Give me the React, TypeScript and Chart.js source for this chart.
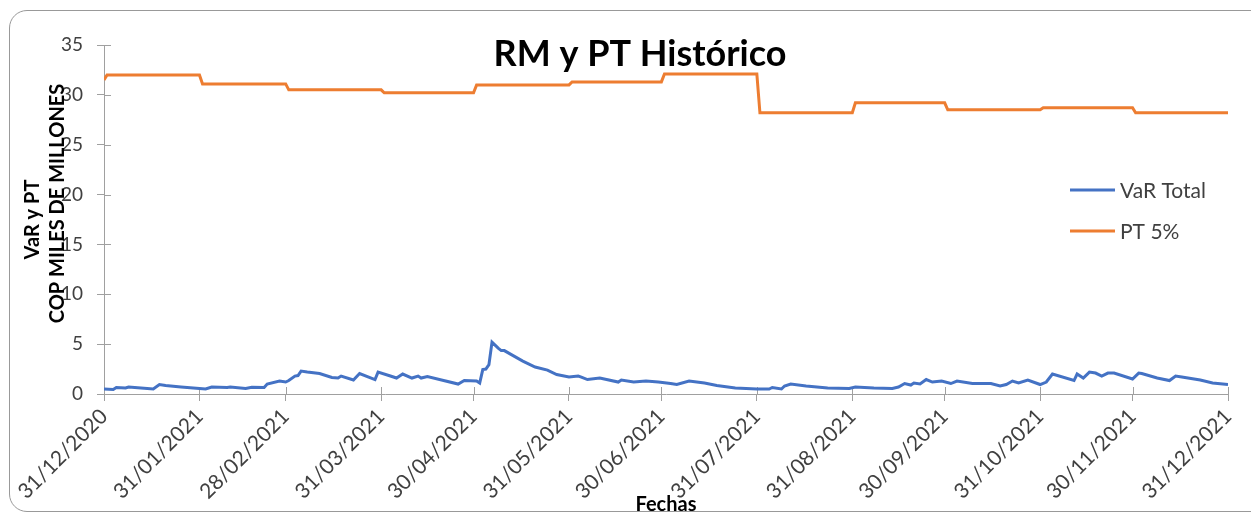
import React, { useEffect, useRef } from 'react';
import { Chart, registerables } from 'chart.js';

Chart.register(...registerables);

const TITLE = 'RM y PT Histórico';
const Y_TITLE_LINES = ['VaR y PT', 'COP MILES DE MILLONES'];
const X_TITLE = 'Fechas';
const SERIES_NAMES = ['VaR Total', 'PT 5%'];
const SERIES_COLORS = ['#4472C4', '#ED7D31'];

// x = days elapsed since 31/12/2020
const TICK_DAYS = [0, 31, 59, 90, 120, 151, 181, 212, 243, 273, 304, 334, 365];
const TICK_LABELS = [
  '31/12/2020', '31/01/2021', '28/02/2021', '31/03/2021', '30/04/2021', '31/05/2021',
  '30/06/2021', '31/07/2021', '31/08/2021', '30/09/2021', '31/10/2021', '30/11/2021', '31/12/2021',
];
const Y_MIN = 0;
const Y_MAX = 35;
const Y_STEP = 5;

const VAR_DAYS = [
  0, 3, 4, 7, 8, 12, 16, 18, 20, 25, 31, 33, 35, 40, 41, 46, 48, 52, 53, 57,
  59, 60, 62, 63, 64, 66, 70, 74, 76, 77, 81, 83, 88, 89, 93, 95, 97, 100, 102, 103,
  105, 115, 117, 121, 122, 123, 124, 125, 126, 128, 129, 130, 132, 136, 140, 144, 147, 151, 154, 155,
  157, 161, 167, 168, 172, 176, 180, 184, 186, 190, 195, 199, 205, 212, 216, 217, 220, 221, 223, 228,
  235, 242, 244, 250, 256, 258, 260, 262, 263, 265, 267, 269, 272, 275, 277, 282, 288, 291, 293, 295,
  297, 300, 304, 306, 308, 315, 316, 318, 320, 322, 324, 326, 328, 334, 336, 337, 342, 346, 348, 350,
  356, 360, 365,
];
const VAR_VALUES = [
  0.5, 0.45, 0.65, 0.6, 0.7, 0.6, 0.5, 0.95, 0.85, 0.7, 0.55, 0.5, 0.7, 0.65, 0.7, 0.55, 0.68, 0.65, 1.0, 1.3,
  1.2, 1.35, 1.8, 1.85, 2.3, 2.2, 2.05, 1.65, 1.6, 1.8, 1.4, 2.05, 1.45, 2.2, 1.8, 1.6, 2.0, 1.6, 1.8, 1.6,
  1.75, 1.0, 1.35, 1.3, 1.1, 2.45, 2.5, 2.95, 5.2, 4.6, 4.35, 4.35, 4.0, 3.3, 2.7, 2.4, 1.95, 1.7, 1.8, 1.7,
  1.45, 1.6, 1.2, 1.4, 1.2, 1.3, 1.2, 1.05, 0.95, 1.3, 1.1, 0.85, 0.6, 0.5, 0.5, 0.65, 0.5, 0.8, 1.0, 0.8,
  0.6, 0.55, 0.7, 0.6, 0.55, 0.7, 1.05, 0.9, 1.1, 1.0, 1.45, 1.2, 1.3, 1.05, 1.3, 1.05, 1.05, 0.8, 0.95, 1.3,
  1.1, 1.4, 0.95, 1.2, 2.0, 1.35, 2.0, 1.6, 2.2, 2.1, 1.8, 2.1, 2.1, 1.5, 2.1, 2.05, 1.6, 1.35, 1.8, 1.7,
  1.4, 1.1, 0.95,
];

const PT_DAYS = [0, 1, 31, 32, 59, 60, 90, 91, 120, 121, 151, 152, 181, 182, 212, 213, 243, 244, 273, 274, 304, 305, 334, 335, 365];
const PT_VALUES = [
  31.5, 32.0, 32.0, 31.1, 31.1, 30.5, 30.5, 30.2, 30.2, 31.0, 31.0, 31.3, 31.3, 32.1, 32.1, 28.2,
  28.2, 29.2, 29.2, 28.5, 28.5, 28.7, 28.7, 28.2, 28.2,
];

const FONT = 'Lato';
const AXIS_COLOR = '#a0a0a0';
const TEXT_COLOR = '#404040';
const CANVAS_W = 1260;
const CANVAS_H = 506;

const overlayPlugin = {
  id: 'overlay',
  beforeDatasetsDraw(chart: any) {
    const { ctx, chartArea, scales } = chart;
    ctx.save();
    ctx.strokeStyle = AXIS_COLOR;
    ctx.lineWidth = 1;
    ctx.beginPath();
    scales.x.ticks.forEach((t: any) => {
      const px = Math.round(scales.x.getPixelForValue(t.value)) + 0.5;
      ctx.moveTo(px, chartArea.bottom);
      ctx.lineTo(px, chartArea.bottom - 7);
    });
    scales.y.ticks.forEach((t: any) => {
      const py = Math.round(scales.y.getPixelForValue(t.value)) + 0.5;
      ctx.moveTo(chartArea.left, py);
      ctx.lineTo(chartArea.left + 7, py);
    });
    ctx.stroke();
    ctx.restore();
  },
  afterDraw(chart: any) {
    const { ctx, chartArea } = chart;
    ctx.save();
    // Title
    ctx.fillStyle = '#000000';
    ctx.font = `bold 36px ${FONT}`;
    ctx.textAlign = 'center';
    ctx.textBaseline = 'alphabetic';
    ctx.fillText(TITLE, chart.width / 2, 56);

    // Y axis title (two rotated lines)
    const midY = (chartArea.top + chartArea.bottom) / 2;
    ctx.font = `bold 20px ${FONT}`;
    ctx.textBaseline = 'middle';
    const offsets = [
      { dx: -71, dy: 0 },
      { dx: -46, dy: -16 },
    ];
    Y_TITLE_LINES.forEach((line, i) => {
      ctx.save();
      ctx.translate(chartArea.left + offsets[i].dx, midY + offsets[i].dy);
      ctx.rotate(-Math.PI / 2);
      ctx.fillText(line, 0, 0);
      ctx.restore();
    });

    // Legend
    ctx.font = `21px ${FONT}`;
    ctx.textAlign = 'left';
    ctx.textBaseline = 'middle';
    chart.data.datasets.forEach((ds: any, i: number) => {
      const y = chartArea.top + 145 + i * 41;
      const x0 = chartArea.right - 158;
      ctx.strokeStyle = ds.borderColor;
      ctx.lineWidth = 3;
      ctx.beginPath();
      ctx.moveTo(x0, y);
      ctx.lineTo(x0 + 45, y);
      ctx.stroke();
      ctx.fillStyle = TEXT_COLOR;
      ctx.fillText(ds.label, x0 + 50, y + 1);
    });
    ctx.restore();
  },
};

export default function App() {
  const canvasRef = useRef<HTMLCanvasElement | null>(null);

  useEffect(() => {
    document.body.style.margin = '0';
    const canvas = canvasRef.current;
    if (!canvas) return;
    const chart = new Chart(canvas, {
      type: 'line',
      data: {
        datasets: [
          {
            label: SERIES_NAMES[0],
            data: VAR_DAYS.map((d, i) => ({ x: d, y: VAR_VALUES[i] })),
            borderColor: SERIES_COLORS[0],
            backgroundColor: SERIES_COLORS[0],
            borderWidth: 3,
            pointRadius: 0,
            tension: 0,
          },
          {
            label: SERIES_NAMES[1],
            data: PT_DAYS.map((d, i) => ({ x: d, y: PT_VALUES[i] })),
            borderColor: SERIES_COLORS[1],
            backgroundColor: SERIES_COLORS[1],
            borderWidth: 3,
            pointRadius: 0,
            tension: 0,
          },
        ],
      },
      options: {
        animation: false,
        responsive: false,
        devicePixelRatio: 1,
        layout: { padding: { top: 35, right: 42, left: 0, bottom: 0 } },
        plugins: {
          legend: { display: false },
          title: { display: false },
          tooltip: { enabled: false },
        },
        scales: {
          x: {
            type: 'linear',
            min: TICK_DAYS[0],
            max: TICK_DAYS[TICK_DAYS.length - 1],
            afterBuildTicks: (axis: any) => {
              axis.ticks = TICK_DAYS.map((v) => ({ value: v }));
            },
            afterFit: (axis: any) => {
              axis.height = 122;
            },
            ticks: {
              autoSkip: false,
              minRotation: 45,
              maxRotation: 45,
              padding: 3,
              color: TEXT_COLOR,
              font: { family: FONT, size: 21 },
              callback: (_v: any, i: number) => TICK_LABELS[i],
            },
            grid: {
              display: true,
              drawOnChartArea: false,
              drawTicks: true,
              tickLength: 7,
              color: AXIS_COLOR,
            },
            border: { display: true, color: AXIS_COLOR, width: 1 },
            title: {
              display: true,
              text: X_TITLE,
              color: '#000000',
              font: { family: FONT, size: 20, weight: 'bold' },
              padding: { top: 0, bottom: -1 },
            },
          },
          y: {
            type: 'linear',
            min: Y_MIN,
            max: Y_MAX,
            afterFit: (axis: any) => {
              axis.width = 94;
            },
            ticks: {
              stepSize: Y_STEP,
              padding: 14,
              color: TEXT_COLOR,
              font: { family: FONT, size: 19 },
            },
            grid: {
              display: true,
              drawOnChartArea: false,
              drawTicks: true,
              tickLength: 7,
              color: AXIS_COLOR,
            },
            border: { display: true, color: AXIS_COLOR, width: 1 },
          },
        },
      },
      plugins: [overlayPlugin],
    } as any);
    return () => chart.destroy();
  }, []);

  return (
    <div style={{ position: 'relative', width: 1251, height: 516, overflow: 'hidden', background: '#ffffff' }}>
      <div
        style={{
          position: 'absolute',
          left: 9,
          top: 10,
          width: 1262,
          height: 502,
          border: '1px solid #999999',
          borderRadius: 18,
          boxSizing: 'border-box',
        }}
      />
      <canvas
        ref={canvasRef}
        width={CANVAS_W}
        height={CANVAS_H}
        style={{ position: 'absolute', left: 10, top: 10, width: CANVAS_W, height: CANVAS_H }}
      />
    </div>
  );
}
